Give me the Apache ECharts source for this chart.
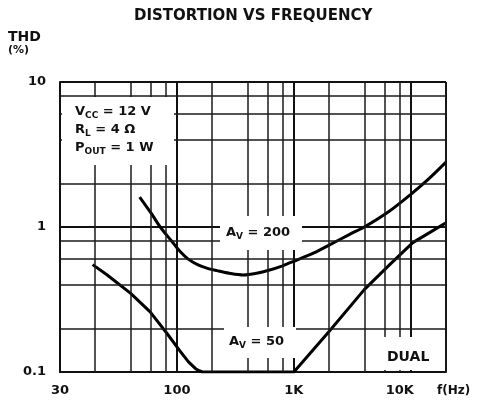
<!DOCTYPE html>
<html><head><meta charset="utf-8">
<script src="https://cdn.jsdelivr.net/npm/echarts@6/dist/echarts.min.js"></script>
<style>html,body{margin:0;padding:0;background:#fff}#c{width:479px;height:409px}</style>
</head><body><div id="c"></div>
<script>
// ---- data ----
const freqAv200 = [48, 60, 72, 90, 106, 125, 150, 180, 220, 280, 370, 480, 620, 800, 1000, 1500, 2000, 3000, 4000, 6500, 10000, 14000, 20000];
const thdAv200  = [1.61, 1.25, 1.0, 0.8, 0.68, 0.6, 0.55, 0.52, 0.5, 0.48, 0.467, 0.48, 0.505, 0.54, 0.58, 0.665, 0.75, 0.89, 1.0, 1.28, 1.68, 2.12, 2.8];
const freqAv50  = [19, 25, 40, 59, 82, 106, 125, 145, 155, 165, 400, 1000, 2000, 4000, 6600, 10400, 14000, 20000];
const thdAv50   = [0.55, 0.47, 0.35, 0.26, 0.185, 0.14, 0.118, 0.105, 0.102, 0.1, 0.1, 0.1, 0.19, 0.37, 0.55, 0.78, 0.9, 1.07];
const xTickValues = [10, 100, 1000, 10000];
const xTickLabels = ['30', '100', '1K', '10K'];
const yTickValues = [0.1, 1, 10];
const yTickLabels = ['0.1', '1', '10'];
const xMinorGrid = [20, 40, 60, 80, 200, 400, 600, 800, 2000, 4000, 6000, 8000, 20000];
const yMinorGrid = [0.2, 0.4, 0.6, 0.8, 2, 4, 6, 8];

const FONT = 'DejaVu Sans';
function lookup(vals, labels, v) {
  for (let i = 0; i < vals.length; i++) if (Math.abs(v - vals[i]) / vals[i] < 1e-6) return labels[i];
  return '';
}
const chart = echarts.init(document.getElementById('c'), null, {renderer: 'canvas'});
const txt = {fontFamily: FONT, fontWeight: 'bold', fontSize: 13, fill: '#111'};
const richSub = {
  a: {fontFamily: FONT, fontWeight: 'bold', fontSize: 13, color: '#111'},
  s: {fontFamily: FONT, fontWeight: 'bold', fontSize: 9, color: '#111', padding: [7, 0, 0, 0]}
};
function label(x, y, text) {
  return {type: 'text', x: x, y: y, z: 60, silent: true,
    style: {text: text, rich: richSub, fontFamily: FONT, fontWeight: 'bold', fontSize: 13, fill: '#111', verticalAlign: 'middle', align: 'left'}};
}
function whiteBox(x, y, w, h) {
  return {type: 'rect', z: 50, silent: true, shape: {x: x, y: y, width: w, height: h}, style: {fill: '#fff'}};
}
chart.setOption({
  animation: false,
  backgroundColor: '#fff',
  title: {text: 'DISTORTION VS FREQUENCY', left: 134, top: 9, padding: 0,
    textStyle: {fontFamily: FONT, fontWeight: 'bold', fontSize: 15, color: '#111'}},
  grid: {left: 60, right: 33, top: 82, bottom: 37, containLabel: false},
  xAxis: {
    type: 'log', logBase: 10, min: 10, max: 20000,
    axisLine: {show: true, lineStyle: {color: '#111', width: 2}},
    axisTick: {show: false},
    splitLine: {show: true, lineStyle: {color: '#111', width: 2}},
    axisLabel: {margin: 12, fontFamily: FONT, fontWeight: 'bold', fontSize: 13, color: '#111',
      formatter: function (v) {
        const t = lookup(xTickValues, xTickLabels, v);
        return t === '10K' ? '{k|' + t + '}' : t;
      },
      rich: {k: {fontFamily: FONT, fontWeight: 'bold', fontSize: 13, color: '#111', padding: [0, 22, 0, 0]}}
    }
  },
  yAxis: {
    type: 'log', logBase: 10, min: 0.1, max: 10,
    axisLine: {show: true, lineStyle: {color: '#111', width: 2}},
    axisTick: {show: false},
    splitLine: {show: true, lineStyle: {color: '#111', width: 2}},
    axisLabel: {margin: 14, fontFamily: FONT, fontWeight: 'bold', fontSize: 13, color: '#111',
      formatter: function (v) { return lookup(yTickValues, yTickLabels, v); }}
  },
  series: [
    {type: 'line', data: [], silent: true, z: 1,
      markLine: {silent: true, symbol: ['none', 'none'], label: {show: false}, animation: false,
        lineStyle: {color: '#1a1a1a', width: 1.5, type: 'solid'},
        emphasis: {disabled: true},
        data: xMinorGrid.map(v => ({xAxis: v})).concat(yMinorGrid.map(v => ({yAxis: v})))}},
    {type: 'line', name: 'AV = 200', z: 3, symbol: 'none', smooth: 0.3, silent: true,
      lineStyle: {color: '#000', width: 3},
      data: freqAv200.map((f, i) => [f, thdAv200[i]])},
    {type: 'line', name: 'AV = 50', z: 3, symbol: 'none', smooth: false, silent: true,
      lineStyle: {color: '#000', width: 3, join: 'round'},
      data: freqAv50.map((f, i) => [f, thdAv50[i]])}
  ],
  graphic: [
    whiteBox(62, 97, 112, 68),
    whiteBox(220, 216, 82, 34),
    whiteBox(224, 327, 72, 31),
    whiteBox(367, 337, 77, 33),
    label(75, 112, '{a|V}{s|CC}{a| = 12 V}'),
    label(75, 130, '{a|R}{s|L}{a| = 4 Ω}'),
    label(75, 148, '{a|P}{s|OUT}{a| = 1 W}'),
    label(226, 233, '{a|A}{s|V}{a| = 200}'),
    label(229, 342, '{a|A}{s|V}{a| = 50}'),
    {type: 'text', x: 387, y: 357, z: 60, silent: true, style: Object.assign({text: 'DUAL', verticalAlign: 'middle'}, txt, {fontSize: 14})},
    {type: 'text', x: 437, y: 391, z: 60, silent: true, style: Object.assign({text: 'f(Hz)', verticalAlign: 'middle'}, txt, {fontSize: 12})},
    {type: 'text', x: 8, y: 37, z: 60, silent: true, style: Object.assign({text: 'THD', verticalAlign: 'middle'}, txt, {fontSize: 14})},
    {type: 'text', x: 8, y: 50, z: 60, silent: true, style: Object.assign({text: '(%)', verticalAlign: 'middle'}, txt, {fontSize: 11})}
  ]
});
</script></body></html>
